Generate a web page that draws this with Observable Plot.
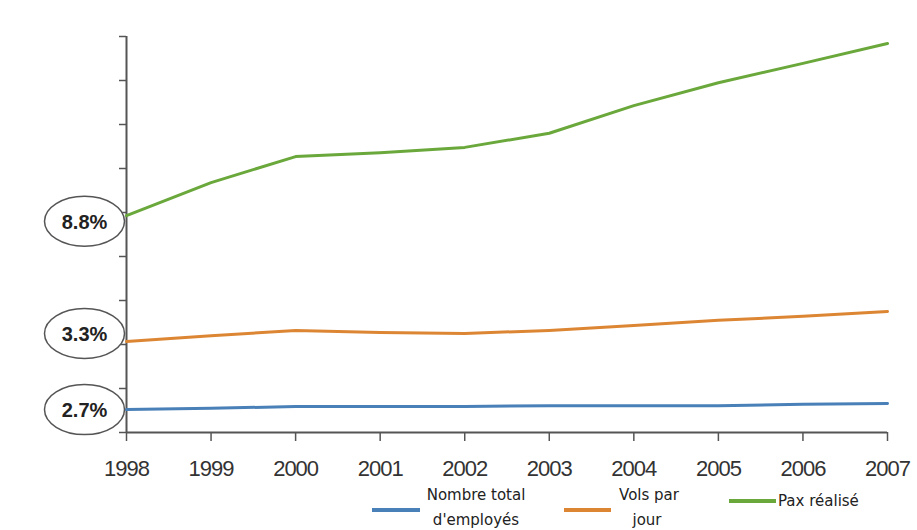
<!DOCTYPE html>
<html>
<head>
<meta charset="utf-8">
<script src="https://cdn.jsdelivr.net/npm/d3@7"></script>
<script src="https://cdn.jsdelivr.net/npm/@observablehq/plot@0.6"></script>
<style>
  html, body { margin: 0; padding: 0; background: #fff; }
  #wrap { position: relative; width: 917px; height: 530px; overflow: hidden; background: #fff; }
  #chart svg { display: block; }
  #chart g[aria-label="x-axis tick label"] { font-size: 22px; letter-spacing: -1px; }
  .lg-line { position: absolute; height: 4px; }
  .lg-txt { position: absolute; font-family: "DejaVu Sans", sans-serif; font-size: 15px; color: #222; white-space: nowrap; transform: translate(-50%, -50%); }
  .lg-left { transform: translate(0, -50%); }
</style>
</head>
<body>
<div id="wrap">
  <div id="chart"></div>
  <div class="lg-line" style="left:372px; top:508px; width:48px; background:#4a80b8;"></div>
  <div class="lg-txt" style="left:476px; top:495px;">Nombre total</div>
  <div class="lg-txt" style="left:476px; top:520px;">d'employés</div>
  <div class="lg-line" style="left:564px; top:508px; width:47px; background:#dc8634;"></div>
  <div class="lg-txt" style="left:649px; top:495px;">Vols par</div>
  <div class="lg-txt" style="left:647px; top:520px;">jour</div>
  <div class="lg-line" style="left:729px; top:499px; width:47px; background:#6aa83c;"></div>
  <div class="lg-txt lg-left" style="left:778px; top:501px;">Pax réalisé</div>
</div>
<script>
// ---- data ----
const years = [1998, 1999, 2000, 2001, 2002, 2003, 2004, 2005, 2006, 2007];
const employees = [0.52, 0.55, 0.59, 0.59, 0.59, 0.61, 0.61, 0.61, 0.64, 0.66];
const flights = [2.07, 2.20, 2.32, 2.27, 2.25, 2.32, 2.43, 2.55, 2.64, 2.75];
const pax = [4.93, 5.68, 6.27, 6.36, 6.48, 6.80, 7.43, 7.95, 8.39, 8.84];
const growthLabels = ["8.8%", "3.3%", "2.7%"];
const growthLevels = [4.80, 2.25, 0.52];
const yTicks = [0, 1, 2, 3, 4, 5, 6, 7, 8, 9];

const toRows = vals => years.map((year, i) => ({year, value: vals[i]}));
const labelRows = growthLabels.map((text, i) => ({year: years[0], level: growthLevels[i], text}));

const ellipse = {
  draw(ctx) {
    const rx = 40, ry = 25, k = 0.5523;
    ctx.moveTo(rx, 0);
    ctx.bezierCurveTo(rx, ry * k, rx * k, ry, 0, ry);
    ctx.bezierCurveTo(-rx * k, ry, -rx, ry * k, -rx, 0);
    ctx.bezierCurveTo(-rx, -ry * k, -rx * k, -ry, 0, -ry);
    ctx.bezierCurveTo(rx * k, -ry, rx, -ry * k, rx, 0);
    ctx.closePath();
  }
};

const chart = Plot.plot({
  width: 917,
  height: 490,
  marginLeft: 126,
  marginRight: 30,
  marginTop: 36,
  marginBottom: 58,
  style: {fontFamily: "'Liberation Sans', Arial, sans-serif", fontSize: "20px", background: "transparent"},
  x: {domain: [years[0], years[years.length - 1]]},
  y: {domain: [0, 9]},
  marks: [
    Plot.axisY({ticks: yTicks, tickSize: 7, tickFormat: () => "", label: null, stroke: "#555", strokeWidth: 1.5}),
    Plot.axisX({ticks: years, tickSize: 9, tickPadding: 19, tickFormat: d => String(d), label: null, stroke: "#555", strokeWidth: 1.5, fill: "#333"}),
    Plot.ruleX([years[0]], {stroke: "#555", strokeWidth: 2}),
    Plot.ruleY([0], {stroke: "#555", strokeWidth: 2}),
    Plot.line(toRows(employees), {x: "year", y: "value", stroke: "#4a80b8", strokeWidth: 3}),
    Plot.line(toRows(flights), {x: "year", y: "value", stroke: "#dc8634", strokeWidth: 3}),
    Plot.line(toRows(pax), {x: "year", y: "value", stroke: "#6aa83c", strokeWidth: 3}),
    Plot.dot(labelRows, {x: "year", y: "level", dx: -42, symbol: ellipse, r: 10, fill: "white", stroke: "#555", strokeWidth: 1.5}),
    Plot.text(labelRows, {x: "year", y: "level", dx: -42, dy: 1, text: "text", fontFamily: "'Liberation Sans', Arial, sans-serif", fontSize: 20, fontWeight: "bold", fill: "#222"})
  ]
});
document.getElementById("chart").appendChild(chart);
</script>
</body>
</html>
